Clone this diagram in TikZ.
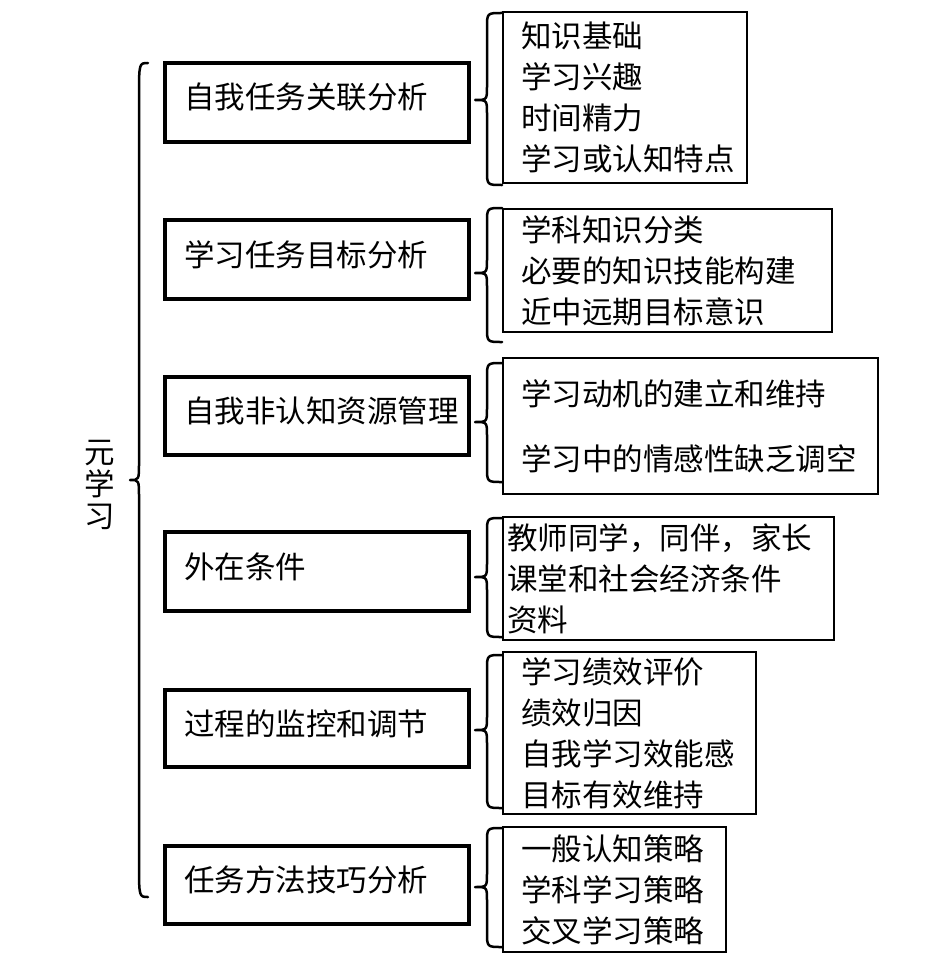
\documentclass[tikz,border=0pt]{standalone}
\usepackage{fontspec}
\newfontfamily\cjk{Noto Sans CJK SC}
% curly brace: xe xs xt y1 ym y2 rEnd rTip
\newcommand\vbrace[8]{%
  \draw[braceline] (#1,#4) .. controls (#2,#4) .. (#2,#4+#7) -- (#2,#5-#8)
    .. controls (#2,#5) .. (#3,#5) .. controls (#2,#5) .. (#2,#5+#8)
    -- (#2,#6-#7) .. controls (#2,#6) .. (#1,#6);}
\begin{document}
\begin{tikzpicture}[x=1pt,y=-1pt,
  txt/.style={font=\cjk\fontsize{30.5pt}{41pt}\selectfont},
  lpad/.style={execute at begin node={\leftskip=#1\relax}},
  box/.style={txt, draw=black, outer sep=0pt, inner xsep=0pt, inner ysep=0pt,
    anchor=north west, align=left},
  lbox/.style={box, line width=3.2pt, text height=22pt, text depth=9pt,
    minimum height=#1, minimum width=304pt, text width=304pt, lpad=19pt},
  rbox/.style n args={3}{box, line width=2.8pt, minimum width=#1, text width=#1,
    minimum height=#2, lpad=#3},
  braceline/.style={draw=black, line width=2.5pt, line cap=round, line join=round}]
\useasboundingbox (0,0) rectangle (929,971);

% root
\node[txt, align=center, font=\cjk\fontsize{30.5pt}{32pt}\selectfont] (root) at (100,485) {元\\学\\习};

% left boxes
\node[lbox=79pt] (l1) at (165,63)  {自我任务关联分析};
\node[lbox=79pt] (l2) at (165,220) {学习任务目标分析};
\node[lbox=78pt] (l3) at (165,377) {自我非认知资源管理};
\node[lbox=79pt] (l4) at (165,532) {外在条件};
\node[lbox=77pt] (l5) at (165,690) {过程的监控和调节};
\node[lbox=78pt] (l6) at (165,846) {任务方法技巧分析};

% right boxes
\node[rbox={244pt}{171pt}{18pt}] (r1) at (503,12) {知识基础\\学习兴趣\\时间精力\\学习或认知特点};
\node[rbox={329pt}{123pt}{18pt}] (r2) at (503,209) {学科知识分类\\必要的知识技能构建\\近中远期目标意识};
\node[rbox={375pt}{136pt}{18pt}] (r3) at (503,358) {学习动机的建立和维持\\[24pt]学习中的情感性缺乏调空};
\node[rbox={331pt}{123pt}{4pt}]  (r4) at (503,517) {教师同学，同伴，家长\\课堂和社会经济条件\\资料};
\node[rbox={253pt}{162pt}{18pt}] (r5) at (503,652) {学习绩效评价\\绩效归因\\自我学习效能感\\目标有效维持};
\node[rbox={223pt}{125pt}{18pt}] (r6) at (503,827) {一般认知策略\\学科学习策略\\交叉学习策略};

% braces
\vbrace{148}{139}{130}{63}{480}{897}{35}{17}
\vbrace{502}{487}{475}{13}{100}{185}{15}{14}
\vbrace{502}{487}{475}{208}{273}{342}{15}{14}
\vbrace{502}{487}{475}{363}{422}{482}{15}{14}
\vbrace{502}{487}{475}{518}{577}{637}{15}{14}
\vbrace{502}{487}{475}{655}{730}{808}{15}{14}
\vbrace{502}{487}{475}{828}{887}{947}{15}{14}
\end{tikzpicture}
\end{document}
